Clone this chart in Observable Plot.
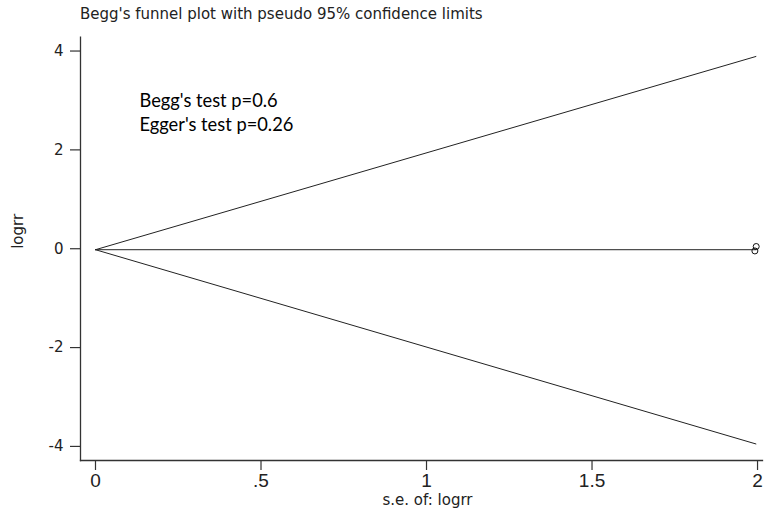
<!DOCTYPE html>
<html><head><meta charset="utf-8">
<script src="https://cdn.jsdelivr.net/npm/d3@7"></script>
<script src="https://cdn.jsdelivr.net/npm/@observablehq/plot@0.6"></script>
<style>
body{margin:0;background:#fff;}
#title{height:20px;padding-top:6px;padding-left:80px;font-family:"DejaVu Sans",sans-serif;font-size:15px;line-height:17px;color:#222;white-space:nowrap;}
#chart svg{display:block;}
</style></head><body>
<div id="title">Begg's funnel plot with pseudo 95% confidence limits</div>
<div id="chart"></div>
<script>
// Study points (s.e. of logrr, logrr)
const studySe = [1.996, 1.992];
const studyLogrr = [0.045, -0.045];
// Pooled estimate line and pseudo 95% limits (endpoints)
const limitSe = [0, 1.995];
const pooledLine = [-0.02, -0.02];
const upperLimit = [-0.02, 3.89];
const lowerLimit = [-0.02, -3.95];
// Axes
const xTicks = [0, 0.5, 1, 1.5, 2];
const xTickLabels = ["0", ".5", "1", "1.5", "2"];
const yTicks = [-4, -2, 0, 2, 4];
const yTickLabels = ["-4", "-2", "0", "2", "4"];
const xTitle = "s.e. of: logrr";
const yTitle = "logrr";
const notes = ["Begg's test p=0.6", "Egger's test p=0.26"];

const points = studySe.map((s, i) => ({se: s, logrr: studyLogrr[i]}));
const lineRows = (ys) => limitSe.map((s, i) => ({se: s, v: ys[i]}));

const axisColor = "#333";
const chart = Plot.plot({
  width: 767, height: 483,
  marginLeft: 80, marginRight: 5, marginTop: 10.7, marginBottom: 49,
  style: {background: "#fff", color: "#222", fontFamily: "DejaVu Sans, sans-serif", fontSize: "15px"},
  x: {domain: [-0.0453, 2.015]},
  y: {domain: [-4.285, 4.28]},
  marks: [
    Plot.axisY({ticks: yTicks, tickFormat: d => yTickLabels[yTicks.indexOf(d)], tickSize: 10, tickPadding: 7,
      label: null, stroke: axisColor, strokeWidth: 1.2, fontSize: 15}),
    Plot.axisX({ticks: xTicks, tickFormat: d => xTickLabels[xTicks.indexOf(d)], tickSize: 10, tickPadding: 3,
      label: null, stroke: axisColor, strokeWidth: 1.2,
      fontFamily: "'Liberation Sans Narrow', 'Arial Narrow', 'Liberation Sans', sans-serif", fontSize: 19}),
    Plot.frame({anchor: "left", stroke: axisColor, strokeWidth: 1.3}),
    Plot.frame({anchor: "bottom", stroke: axisColor, strokeWidth: 1.3}),
    Plot.line(lineRows(upperLimit), {x: "se", y: "v", stroke: "#222", strokeWidth: 1}),
    Plot.line(lineRows(lowerLimit), {x: "se", y: "v", stroke: "#222", strokeWidth: 1}),
    Plot.line(lineRows(pooledLine), {x: "se", y: "v", stroke: "#222", strokeWidth: 1}),
    Plot.dot(points, {x: "se", y: "logrr", r: 3, stroke: "#111", fill: "none", strokeWidth: 1}),
    Plot.text([notes.join("\n")], {frameAnchor: "top-left", dx: 59, dy: 53, lineAnchor: "top",
      lineHeight: 1.29, fontFamily: "Lato, 'Open Sans', sans-serif", fontSize: 18.3, fill: "#000", textAnchor: "start"}),
    Plot.text([xTitle], {frameAnchor: "bottom", dx: 6, dy: 44, lineAnchor: "bottom", fontSize: 15, fill: "#222"}),
    Plot.text([yTitle], {frameAnchor: "left", dx: -68, rotate: -90, lineAnchor: "top", fontSize: 15, fill: "#222"})
  ]
});
document.getElementById("chart").appendChild(chart);
</script>
</body></html>
